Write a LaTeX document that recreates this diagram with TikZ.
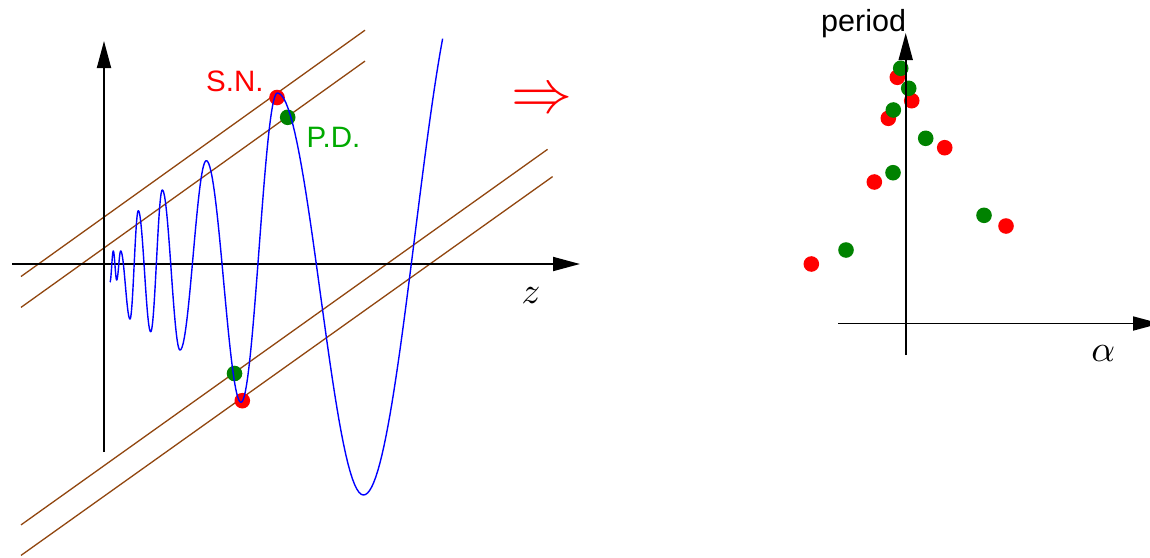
\documentclass[tikz,border=0pt]{standalone}
\usepackage{fontspec}
\newfontfamily\lsans{Liberation Sans}
\usetikzlibrary{arrows.meta}
\definecolor{brn}{RGB}{145,70,15}
\definecolor{dred}{RGB}{255,0,0}
\definecolor{dgreen}{RGB}{0,130,0}
\definecolor{tgreen}{RGB}{0,170,0}
\definecolor{cblue}{RGB}{0,0,255}
\tikzset{
  axis/.style={line width=1.8pt,-{Triangle[length=27pt,width=14pt]}},
  brline/.style={brn,line width=1.3pt},
  curve/.style={cblue,line width=1.4pt,line join=round},
  reddot/.style={fill=dred},
  greendot/.style={fill=dgreen},
  lab/.style={inner sep=0pt,anchor=base west,font=\lsans\fontsize{29.5}{31}\selectfont},
  mlab/.style={inner sep=0pt,scale=3.7}
}
\begin{document}
\begin{tikzpicture}[x=1pt,y=-1pt]
\useasboundingbox (0,0) rectangle (1150,557);
\clip (0,0) rectangle (1150,557);
% ---- left panel ----
\draw[brline] (21,276.5) -- (365,30.2);
\draw[brline] (21,307.4) -- (365,61.1);
\draw[brline] (21,524.9) -- (547.6,149.3);
\draw[brline] (21,555.4) -- (552.6,176.6);
\coordinate (zs) at (12,264);
\coordinate (ze) at (580,264);
\coordinate (ys) at (104,452);
\coordinate (ye) at (104,41);
\draw[axis] (zs) -- (ze);
\draw[axis] (ys) -- (ye);
\fill[reddot] (277,97.5) circle[radius=7.8];
\fill[greendot] (287.7,117.3) circle[radius=7.8];
\fill[greendot] (234.5,373.5) circle[radius=7.8];
\fill[reddot] (242.3,400.7) circle[radius=7.8];
\draw[curve] (110,282)
  \foreach \xa/\ya/\xb/\yb/\dm in {
    110/282/113.3/251/180,
    113.3/251/116.7/280/180,
    116.7/280/120.7/251/180,
    120.7/251/130/319/180,
    130/319/138.3/210.7/180,
    138.3/210.7/150.7/331.7/180,
    150.7/331.7/162.3/190/180,
    162.3/190/180/350/180,
    180/350/206.3/160.7/180,
    206.3/160.7/241/402.3/180,
    241/402.3/277.3/93/180,
    277.3/93/363.5/495/180,
    363.5/495/467/-30/137.6}
  { -- plot[domain=0:\dm,samples=40,variable=\t]
      ({\xa+(\xb-\xa)*\t/180},{(\ya+\yb)/2+(\ya-\yb)/2*cos(\t)}) };
\node[lab,text=dred] (sn) at (206,91) {S.N.};
\node[lab,text=tgreen] (pd) at (306.5,147.7) {P.D.};
\node[mlab] (zl) at (531,295.5) {$z$};
\node[inner sep=0pt,anchor=base,text=dred,scale=6.1] (impl) at (541.7,112.5) {$\Rightarrow$};
% ---- right panel ----
\foreach \p in {(897.3,77.3),(911.7,100.7),(888.3,118.3),(944.7,147.7),(874.3,182),(1006,226),(811.3,264)}
  \fill[reddot] \p circle[radius=7.8];
\foreach \p in {(900.7,68.3),(908.7,88.3),(893.3,110),(925.7,138.3),(893,172.7),(984,215.3),(846,250)}
  \fill[greendot] \p circle[radius=7.8];
\node[lab,font=\lsans\fontsize{30.5}{32}\selectfont] (per) at (821,31.5) {period};
\coordinate (as) at (838,323.5);
\coordinate (ae) at (1160,323.5);
\coordinate (ps) at (905.7,355);
\coordinate (pe) at (905.7,33);
\draw[axis] (as) -- (ae);
\draw[axis] (ps) -- (pe);
\node[mlab] (al) at (1103.3,353.3) {$\alpha$};
\end{tikzpicture}
\end{document}
